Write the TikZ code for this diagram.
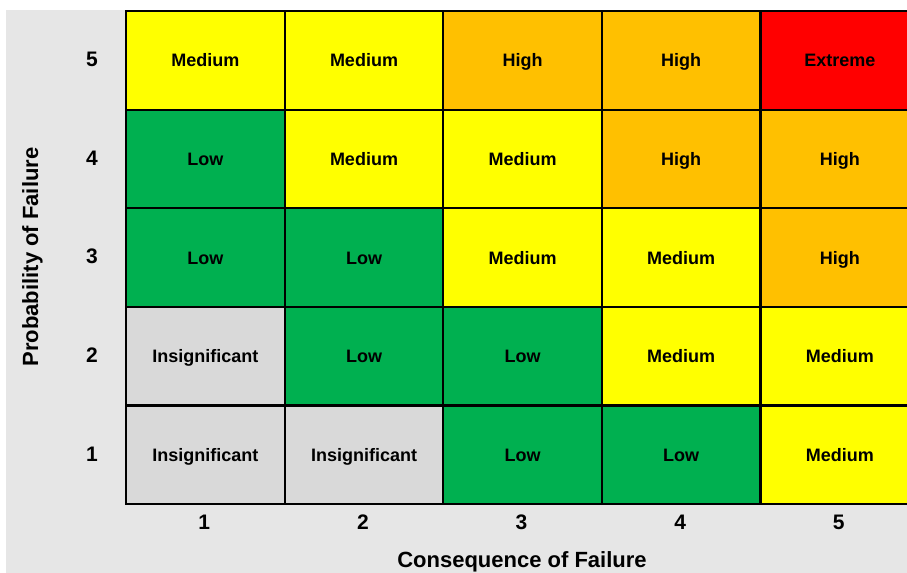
\documentclass[tikz,border=0pt]{standalone}
\usepackage{fontspec}
\setmainfont{Liberation Sans}
\definecolor{bgGrey}{HTML}{E6E6E6}
\definecolor{cYel}{HTML}{FFFF00}
\definecolor{cOra}{HTML}{FFC000}
\definecolor{cRed}{HTML}{FF0000}
\definecolor{cGrn}{HTML}{00B050}
\definecolor{cGry}{HTML}{D9D9D9}
\begin{document}
\begin{tikzpicture}[x=1bp,y=-1bp,
  cell/.style={draw=black,line width=2.2bp,minimum width=158.6bp,minimum height=98.6bp,
    inner sep=0pt,anchor=north west,text height=12.8bp,text depth=0pt,
    font=\fontsize{18bp}{20bp}\selectfont\bfseries},
  axnum/.style={font=\fontsize{21bp}{24bp}\selectfont\bfseries,text height=15bp,text depth=0pt,inner sep=0pt},
  axlab/.style={font=\fontsize{22bp}{26bp}\selectfont\bfseries,inner sep=0pt}]
\useasboundingbox (0,0) rectangle (907,573);
\clip (0,0) rectangle (907,573);
\fill[bgGrey] (6,10) rectangle (930,573);
\def\cw{158.6}\def\rh{98.6}
\foreach \r/\c/\t/\f in {
 5/1/Medium/cYel, 5/2/Medium/cYel, 5/3/High/cOra, 5/4/High/cOra, 5/5/Extreme/cRed,
 4/1/Low/cGrn, 4/2/Medium/cYel, 4/3/Medium/cYel, 4/4/High/cOra, 4/5/High/cOra,
 3/1/Low/cGrn, 3/2/Low/cGrn, 3/3/Medium/cYel, 3/4/Medium/cYel, 3/5/High/cOra,
 2/1/Insignificant/cGry, 2/2/Low/cGrn, 2/3/Low/cGrn, 2/4/Medium/cYel, 2/5/Medium/cYel,
 1/1/Insignificant/cGry, 1/2/Insignificant/cGry, 1/3/Low/cGrn, 1/4/Low/cGrn, 1/5/Medium/cYel}
 {\node[cell,fill=\f] (c-\r-\c) at ({125+(\c-1)*\cw},{10+(5-\r)*\rh}) {\t};}
\foreach \r in {1,...,5}
 {\node[axnum] (row-\r) at (92,{10+(5-\r)*\rh+\rh/2}) {\r};}
\foreach \c in {1,...,5}
 {\node[axnum] (col-\c) at ({125+(\c-1)*\cw+\cw/2},521.5) {\c};}
\node[axlab,rotate=90,anchor=base] (ylab) at (38,257) {Probability of Failure};
\node[axlab,anchor=base] (xlab) at (522,567.5) {Consequence of Failure};
\end{tikzpicture}
\end{document}
